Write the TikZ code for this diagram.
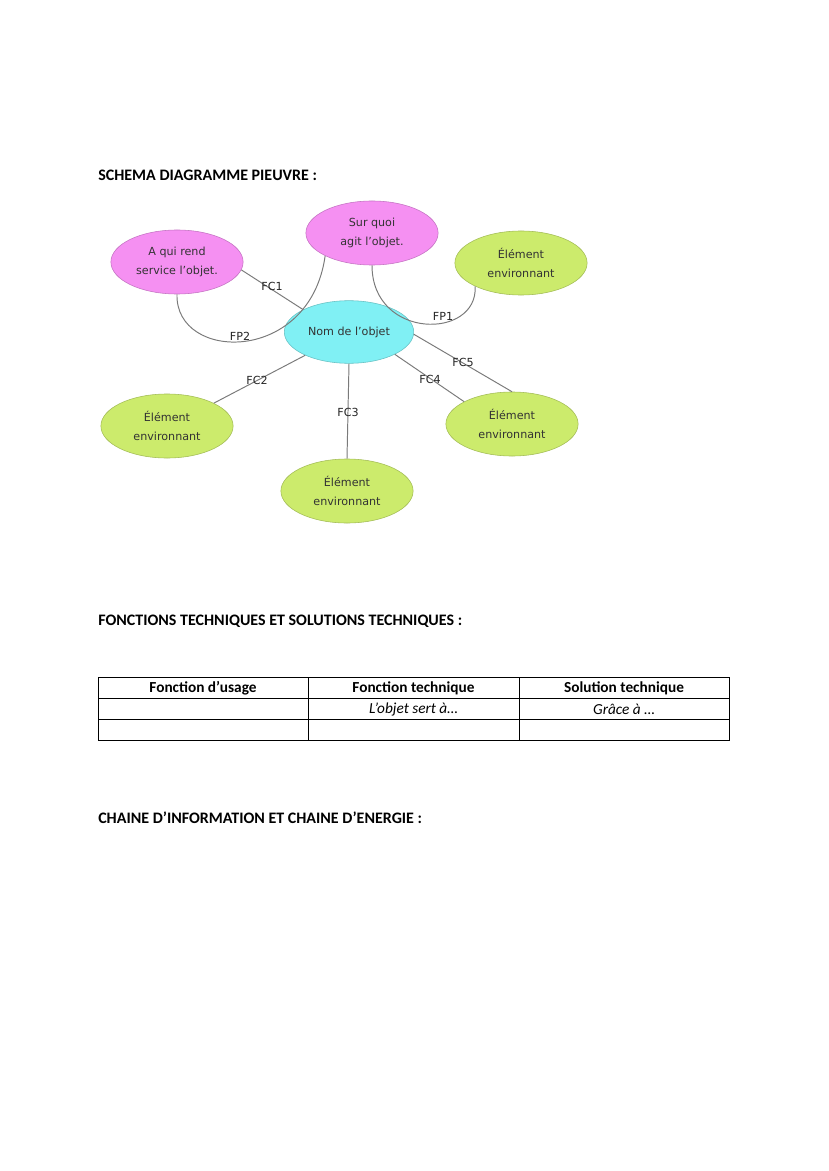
\documentclass[tikz,border=0pt]{standalone}
\usepackage{fontspec}
\setmainfont{Carlito}
\newfontfamily\diagfont{DejaVu Sans}
\usetikzlibrary{shapes.geometric}
\definecolor{pinkfill}{HTML}{F590F2}
\definecolor{cyanfill}{HTML}{80F0F4}
\definecolor{greenfill}{HTML}{CCEB6C}
\definecolor{linegrey}{HTML}{7A7A7A}
\tikzset{
  bubble/.style={draw=#1!80!black, fill=#1, ellipse, minimum width=95pt, minimum height=46pt,
    inner sep=0pt, align=center, font=\diagfont\fontsize{8}{14}\selectfont, text=black!80},
  link/.style={draw=linegrey, line width=0.7pt},
  lbl/.style={font=\diagfont\fontsize{8}{9}\selectfont, inner sep=1pt, text=black!85},
  title/.style={anchor=west, inner sep=0pt, font=\bfseries\fontsize{11.5}{13}\selectfont},
  cell/.style={font=\fontsize{11}{12}\selectfont}
}
\begin{document}
\begin{tikzpicture}[x=0.7186pt, y=-0.7186pt]
  \useasboundingbox (0,0) rectangle (828,1171);

  \node[title] (t1) at (98,175) {SCHEMA DIAGRAMME PIEUVRE :};

  \node[bubble=pinkfill] (aqui) at (177,262) {A qui rend\\service l’objet.};
  \node[bubble=pinkfill] (surquoi) at (372,233) {Sur quoi\\agit l’objet.};
  \node[bubble=greenfill] (envTR) at (521,263) {Élément\\environnant};
  \node[bubble=greenfill] (envL) at (167,426) {Élément\\environnant};
  \node[bubble=greenfill] (envB) at (347,491) {Élément\\environnant};
  \node[bubble=greenfill] (envR) at (512,424) {Élément\\environnant};
  \node[bubble=cyanfill, minimum width=93pt, minimum height=45pt] (nom) at (349,332) {Nom de l’objet};

  \draw[link] (aqui.-7) -- (nom.154);
  \draw[link] (aqui.-90) .. controls (175,362) and (310,365) .. (surquoi.-154);
  \draw[link] (surquoi.-90) .. controls (372,340) and (478,340) .. (envTR.-153);
  \draw[link] (nom.-2) -- (envR.90);
  \draw[link] (nom.-26) -- (envR.155);
  \draw[link] (nom.-90) -- (envB.90);
  \draw[link] (nom.-152) -- (envL.26);

  \node[lbl] (fc1) at (272,286) {FC1};
  \node[lbl] (fp2) at (240,336) {FP2};
  \node[lbl] (fp1) at (443,316) {FP1};
  \node[lbl] (fc5) at (463,362) {FC5};
  \node[lbl] (fc4) at (430,379) {FC4};
  \node[lbl] (fc3) at (348,412) {FC3};
  \node[lbl] (fc2) at (257,380) {FC2};

  \node[title] (t2) at (98,621) {FONCTIONS TECHNIQUES ET SOLUTIONS TECHNIQUES :};

  % tableau
  \draw[line width=0.6pt] (98,677) rectangle (729,740);
  \draw[line width=0.6pt] (98,698) -- (729,698) (98,719) -- (729,719);
  \draw[line width=0.6pt] (308,677) -- (308,740) (519,677) -- (519,740);
  \node[cell, font=\bfseries\fontsize{11}{12}\selectfont] (h1) at (203,688) {Fonction d’usage};
  \node[cell, font=\bfseries\fontsize{11}{12}\selectfont] (h2) at (413.5,688) {Fonction technique};
  \node[cell, font=\bfseries\fontsize{11}{12}\selectfont] (h3) at (624,688) {Solution technique};
  \node[cell, font=\itshape\fontsize{11}{12}\selectfont] (c2) at (413.5,709) {L’objet sert à…};
  \node[cell, font=\itshape\fontsize{11}{12}\selectfont] (c3) at (624,709) {Grâce à …};

  \node[title] (t3) at (98,818) {CHAINE D’INFORMATION ET CHAINE D’ENERGIE :};
\end{tikzpicture}
\end{document}
